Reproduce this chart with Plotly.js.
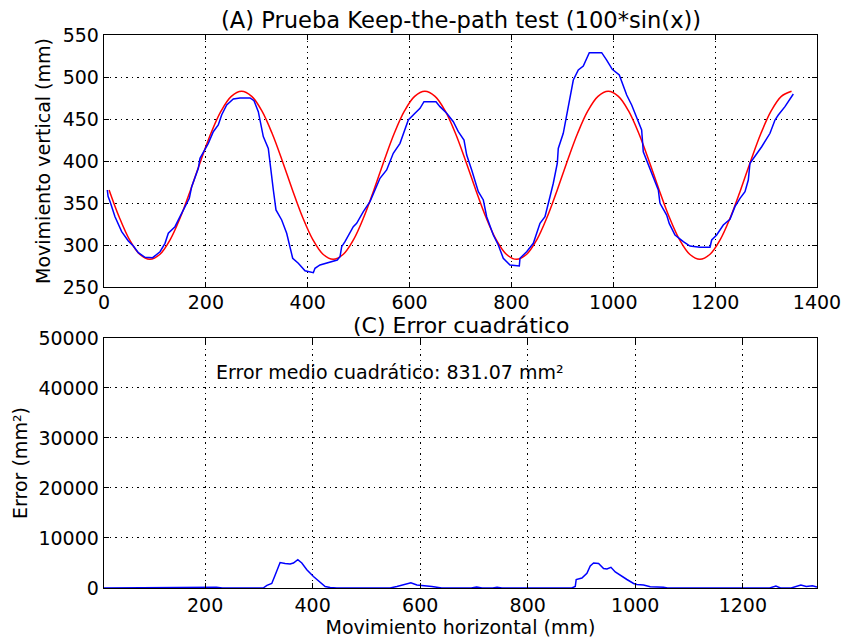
<!DOCTYPE html>
<html>
<head>
<meta charset="utf-8">
<script src="https://cdn.plot.ly/plotly-3.0.1.min.js"></script>
<style>html,body{margin:0;padding:0;background:#fff;}#chart{width:843px;height:639px;}</style>
</head>
<body>
<div id="chart"></div>
<script>
// Reference path (red)
var refX = [10,30,50,70,90,110,130,150,170,190,210,230,250,270,290,310,330,350,
            370,390,410,430,450,470,490,510,530,550,570,590,610,630,650,670,690,710,
            730,750,770,790,810,830,850,870,890,910,930,950,970,990,1010,1030,1050,1070,
            1090,1110,1130,1150,1170,1190,1210,1230,1250,1270,1290,1310,1330,1350];
var refY = [365.6,333,306.4,289,283,289,306.4,333,365.6,400.4,433,459.6,477,483,477,459.6,433,400.4,
            365.6,333,306.4,289,283,289,306.4,333,365.6,400.4,433,459.6,477,483,477,459.6,433,400.4,
            365.6,333,306.4,289,283,289,306.4,333,365.6,400.4,433,459.6,477,483,477,459.6,433,400.4,
            365.6,333,306.4,289,283,289,306.4,333,365.6,400.4,433,459.6,477,483];

var userX = [6.5,8,12,21.6,34.7,47.8,57.6,67.4,80.5,95.6,110,119.8,126.3,139.4,149.2,159,167.5,172.2,178.7,185.2,
             188.5,198.3,204.8,214.6,224.4,231,240.9,253.9,267,286.7,294.5,303,312.8,322.6,327.3,332.5,337.7,348.9,358.7,365.2,
             370.5,381.5,394.7,411,414.3,424.1,440.4,458,463.4,466.7,473.2,489.5,496.1,509.2,522.3,532.1,541.9,555,568,581.2,
             594.3,597.5,610.6,620.5,628.3,651.9,659.7,672.9,685.9,695.7,706.9,712.2,722,735,744.8,751.4,764.4,774.2,784,797.2,
             815.5,816.8,829.9,843,856.1,865.9,875.7,882.2,890.1,892,901.8,908.5,915,921.5,931.3,941.1,952.9,977.2,987,998,
             1011.8,1019.7,1026.3,1036.1,1045.9,1055.7,1058.9,1068.7,1078.6,1088.4,1091.7,1104.8,1110,1121.2,1137.5,1150.6,1170.2,1189.9,1193.2,1203,
             1216,1229.1,1238.9,1248.8,1258.6,1265.1,1268.4,1278.2,1291.4,1307.7,1317.5,1324,1337.1,1353.5];
var userY = [365.5,358,351.5,333.7,315.9,304.8,298.8,290.9,285.3,284.9,292,302,314,321.8,333.7,345.6,355.6,369.4,379.4,391.3,
             403.2,413,421,434.9,442.9,454.8,466.7,473.8,475,475,471.8,458.7,429,415,389.3,365.5,341.7,329.8,314,298,
             284.2,278.2,269.4,267,272.2,276.2,279.4,282.1,286,298,304,321.8,325.8,339.7,351.6,365.5,379.4,389.3,409.2,421,
             442.9,448.8,456.8,462.7,470.6,470.6,464.7,456.8,446.8,434.9,425,407.1,389.3,363.5,353.6,333.7,311.9,300,284.2,276.2,
             275,284.2,292,302,325.8,333.7,357.5,373.5,397.3,415,433,454.8,476.6,496.4,508.3,513,529,529,520.2,509.2,
             502.4,488.5,478.6,466.7,450.8,436.9,411,395.2,379.4,365.5,349.6,335.7,325.4,311.9,304,298.8,297.3,297.3,306,311.9,
             323.8,330.6,345.6,355.6,363.5,377.4,397.3,405.1,417,433,448.8,454.8,464.7,479.8];

// Squared error (blue, lower panel)
var errX = [12,60,120,180,210,221,232,280,308,315,324,330,339.5,348.8,358.1,364.3,372.4,379.9,389.2,401.5,
            414,423.3,432.6,445,500,544,556.7,572,582.7,593.9,606.2,621.8,640,695,705,715,735,743,752,800,
            850,882,888.4,890.2,900.8,910.1,916.3,922.5,931.8,941.1,947.3,954.8,962.8,972.1,984.5,996.9,1003,1015.4,1027.9,1052.6,
            1060,1150,1250,1261.6,1270,1290,1308,1318,1329.6,1338];
var errY = [0,20,10,30,0,150,0,20,0,540,900,2500,5100,4900,4800,5000,5650,5000,3650,2300,
            1050,300,100,0,20,0,300,700,1050,600,500,300,0,0,200,0,0,150,0,20,
            30,0,300,1700,2000,2950,4400,5000,4900,3900,3800,4130,3200,2500,1700,900,700,600,250,150,
            0,20,0,400,0,0,600,300,450,200];

var topYTicks = [250,300,350,400,450,500,550];
var topXTicks = [0,200,400,600,800,1000,1200,1400];
var botXTicks = [200,400,600,800,1000,1200];
var botYTicks = [0,10000,20000,30000,40000,50000];

var FONT = 'DejaVu Sans, sans-serif';
var axisCommon = {
  showline: true, linecolor: '#000', linewidth: 1.3, mirror: 'ticks',
  ticks: 'inside', ticklen: 5, tickwidth: 1, tickcolor: '#000',
  showgrid: true, gridcolor: '#000', gridwidth: 1, griddash: '1.5px,4px',
  zeroline: false, tickformat: 'd', tickfont: {family: FONT, size: 19, color: '#000'}
};
function ax(extra){ return Object.assign({}, axisCommon, extra); }

var traces = [
  {x: refX, y: refY, xaxis: 'x', yaxis: 'y', type: 'scatter', mode: 'lines',
   line: {color: '#ff0000', width: 1.5, shape: 'spline'}, hoverinfo: 'skip'},
  {x: userX, y: userY, xaxis: 'x', yaxis: 'y', type: 'scatter', mode: 'lines',
   line: {color: '#0000ff', width: 1.5}, hoverinfo: 'skip'},
  {x: errX, y: errY, xaxis: 'x2', yaxis: 'y2', type: 'scatter', mode: 'lines',
   line: {color: '#0000ff', width: 1.5}, hoverinfo: 'skip', cliponaxis: false}
];

var layout = {
  width: 843, height: 639,
  margin: {l: 104, r: 26, t: 35, b: 51},
  paper_bgcolor: '#fff', plot_bgcolor: '#fff',
  showlegend: false,
  font: {family: FONT, color: '#000'},
  xaxis: ax({domain: [0,1], anchor: 'y', range: [0,1400], tickvals: topXTicks, ticklabelstandoff: -2}),
  yaxis: ax({domain: [0.5443,1], anchor: 'x', range: [250,550], tickvals: topYTicks,
             title: {text: 'Movimiento vertical (mm)', font: {family: FONT, size: 19, color: '#000'}, standoff: 7}}),
  xaxis2: ax({domain: [0,1], anchor: 'y2', range: [12,1338], tickvals: botXTicks,
             title: {text: 'Movimiento horizontal (mm)', font: {family: FONT, size: 19, color: '#000'}, standoff: 2}}),
  yaxis2: ax({domain: [0,0.4521], anchor: 'x2', range: [0,50000], tickvals: botYTicks,
             title: {text: 'Error (mm²)', font: {family: FONT, size: 19, color: '#000'}, standoff: 5}}),
  annotations: [
    {text: '(A) Prueba Keep-the-path test (100*sin(x))', xref: 'paper', yref: 'paper',
     x: 0.5, y: 1, yshift: 1, xanchor: 'center', yanchor: 'bottom', showarrow: false, borderpad: 0,
     font: {family: FONT, size: 22.6, color: '#000'}},
    {text: '(C) Error cuadrático', xref: 'paper', yref: 'paper',
     x: 0.5, y: 0.4521, yshift: -1, xanchor: 'center', yanchor: 'bottom', showarrow: false, borderpad: 0,
     font: {family: FONT, size: 22, color: '#000'}},
    {text: 'Error medio cuadrático: 831.07 mm²', xref: 'x2', yref: 'y2',
     x: 217, y: 43200, xanchor: 'left', yanchor: 'middle', showarrow: false,
     font: {family: FONT, size: 19, color: '#000'}}
  ]
};

Plotly.newPlot('chart', traces, layout, {staticPlot: true, displayModeBar: false});
</script>
</body>
</html>
